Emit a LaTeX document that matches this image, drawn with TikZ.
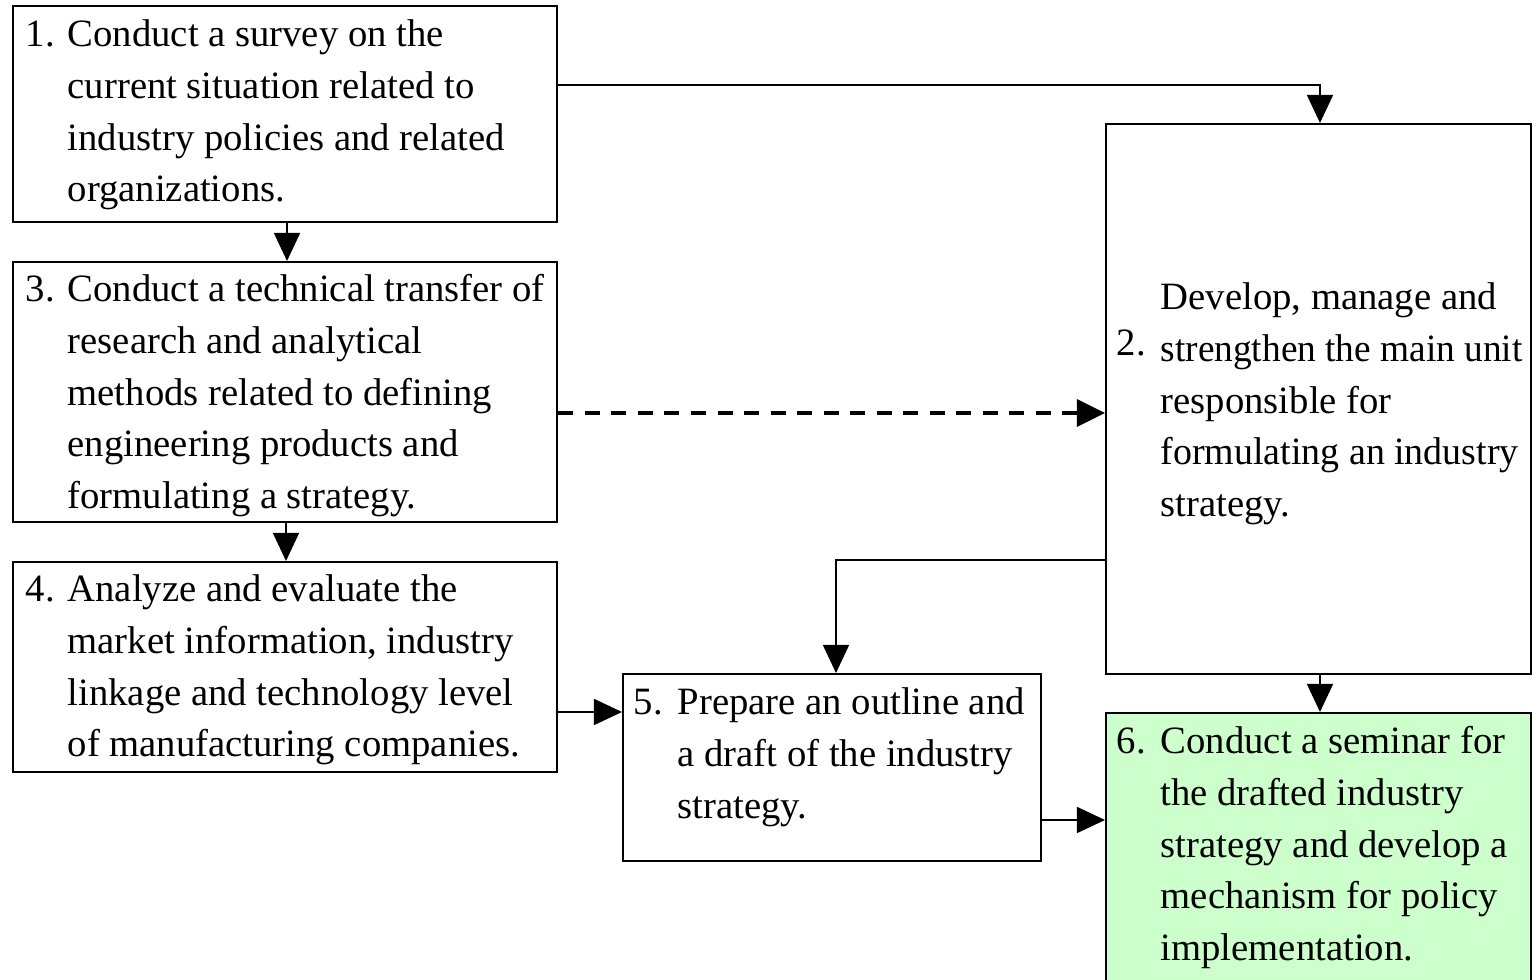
\documentclass[tikz,border=0pt]{standalone}
\usepackage{fontspec}
\setmainfont{Liberation Serif}
\usetikzlibrary{arrows.meta}
\begin{document}
\begin{tikzpicture}[x=0.01cm,y=-0.01cm,
  box/.style={draw,line width=0.6pt,rectangle,inner sep=0pt,anchor=north west},
  txt/.style={anchor=base west,inner sep=0pt,font=\fontsize{11pt}{14.65pt}\selectfont},
  link/.style={line width=0.45pt,-{Triangle[length=0.28cm,width=0.26cm]}},
  dlink/.style={line width=1pt,dash pattern=on 0.15cm off 0.115cm,-{Triangle[length=0.28cm,width=0.27cm]}}]
\useasboundingbox (0,0) rectangle (1532,980);
\begin{scope}
\clip (0,0) rectangle (1532,980);

% step boxes
\node[box,minimum width=5.44cm,minimum height=2.16cm] (b1) at (12,5) {};
\node[box,minimum width=5.44cm,minimum height=2.60cm] (b3) at (12,261) {};
\node[box,minimum width=5.44cm,minimum height=2.10cm] (b4) at (12,561) {};
\node[box,minimum width=4.18cm,minimum height=1.87cm] (b5) at (622,673) {};
\node[box,minimum width=4.25cm,minimum height=5.50cm] (b2) at (1105,123) {};
\node[box,fill={rgb,255:red,204;green,255;blue,204},minimum width=4.25cm,minimum height=2.95cm] (b6) at (1105,712) {};

% step texts
\node[txt] (t1) at (25,47) {\begin{tabular}[t]{@{}p{0.42cm}@{}l@{}}
1.&Conduct a survey on the\\
&current situation related to\\
&industry policies and related\\
&organizations.\end{tabular}};
\node[txt] (t3) at (25,302) {\begin{tabular}[t]{@{}p{0.42cm}@{}l@{}}
3.&Conduct a technical transfer of\\
&research and analytical\\
&methods related to defining\\
&engineering products and\\
&formulating a strategy.\end{tabular}};
\node[txt] (t4) at (25,602) {\begin{tabular}[t]{@{}p{0.42cm}@{}l@{}}
4.&Analyze and evaluate the\\
&market information, industry\\
&linkage and technology level\\
&of manufacturing companies.\end{tabular}};
\node[txt] (t5) at (633,715) {\begin{tabular}[t]{@{}p{0.44cm}@{}l@{}}
5.&Prepare an outline and\\
&a draft of the industry\\
&strategy.\end{tabular}};
\node[txt] (t2) at (1116,310) {\begin{tabular}[t]{@{}p{0.44cm}@{}l@{}}
&Develop, manage and\\
\raisebox{0.06cm}{2.}&\scalebox{0.965}[1]{strengthen the main unit}\\
&responsible for\\
&\scalebox{0.98}[1]{formulating an industry}\\
&strategy.\end{tabular}};
\node[txt] (t6) at (1116,754) {\begin{tabular}[t]{@{}p{0.44cm}@{}l@{}}
6.&Conduct a seminar for\\
&the drafted industry\\
&strategy and develop a\\
&mechanism for policy\\
&implementation.\end{tabular}};

% connector levels and columns
\coordinate (y12) at (0,85);
\coordinate (y32) at (0,413);
\coordinate (y25) at (0,560);
\coordinate (y45) at (0,712);
\coordinate (y56) at (0,820);
\coordinate (x13) at (287,0);
\coordinate (x34) at (286,0);
\coordinate (x25) at (836,0);
\coordinate (x2) at (1320,0);

% connectors
\draw[link] (b1.east |- y12) -| (x2 |- b2.north);
\draw[link] (x13 |- b1.south) -- (x13 |- b3.north);
\draw[dlink] (b3.east |- y32) -- (b2.west |- y32);
\draw[link] (x34 |- b3.south) -- (x34 |- b4.north);
\draw[link] (b4.east |- y45) -- (b5.west |- y45);
\draw[link] (b2.west |- y25) -| (x25 |- b5.north);
\draw[link] (x2 |- b2.south) -- (x2 |- b6.north);
\draw[link] (b5.east |- y56) -- (b6.west |- y56);
\end{scope}
\end{tikzpicture}
\end{document}
